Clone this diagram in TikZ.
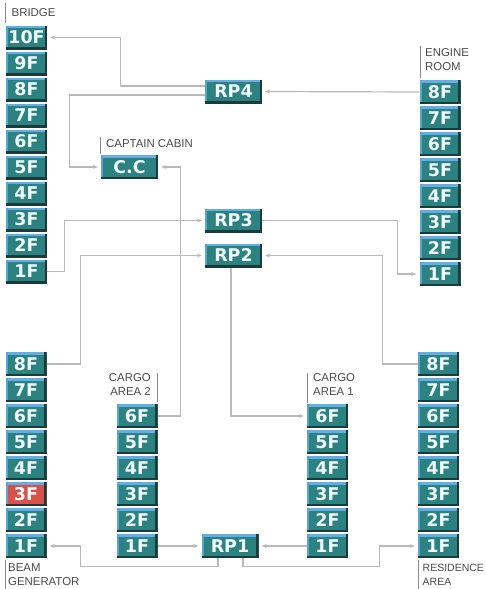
\documentclass[tikz,border=0pt]{standalone}
\usepackage{fontspec}
\setsansfont{DejaVu Sans}
\newfontfamily\lblfont{Liberation Sans}
\usetikzlibrary{arrows.meta,calc}
\definecolor{teal1}{HTML}{2B8281}
\definecolor{red1}{HTML}{D8524A}
\definecolor{edgehi}{HTML}{64AEE6}
\definecolor{edgelo}{HTML}{1C3A3A}
\definecolor{conncol}{HTML}{B9B9B9}
\definecolor{tickcol}{HTML}{8A8A8A}
\definecolor{lblcol}{HTML}{4A4A4A}
\begin{document}
\begin{tikzpicture}[x=1pt,y=-1pt,
  fl/.style={rectangle, minimum width=41pt, minimum height=24pt, inner sep=0pt,
    fill=teal1, text=white!95!cyan, font=\sffamily\bfseries\fontsize{17.5}{17.5}\selectfont,
    path picture={
      \fill[edgehi] (path picture bounding box.north west) rectangle ([yshift=-2.5pt]path picture bounding box.north east);
      \fill[edgehi!80!teal1] (path picture bounding box.north west) rectangle ([xshift=2pt]path picture bounding box.south west);
      \fill[edgelo] (path picture bounding box.south west) rectangle ([yshift=2.5pt]path picture bounding box.south east);
      \fill[edgelo] (path picture bounding box.south east) rectangle ([xshift=-2.5pt]path picture bounding box.north east);
    }},
  rp/.style={fl, minimum width=57pt},
  hot/.style={fill=red1},
  conn/.style={draw=conncol, line width=1.2pt, -{Stealth[length=5pt,width=4pt]}, shorten >=3pt},
  lbl/.style={font=\lblfont\fontsize{11.4}{14}\selectfont, text=lblcol, inner sep=0pt, align=left},
  small/.style={font=\lblfont\fontsize{10.5}{14}\selectfont},
  tick/.style={draw=tickcol, line width=0.8pt}
]
\useasboundingbox (0,0) rectangle (486,589);
\fill[white] (0,0) rectangle (486,589);

% Bridge column
\foreach \k in {1,...,10} \node[fl] (B\k) at (26.5,{37.5+(10-\k)*26}) {\k F};
% Engine room
\foreach \k in {1,...,8} \node[fl] (E\k) at (440,{92+(8-\k)*26}) {\k F};
% Beam generator
\foreach \k in {1,2,4,5,6,7,8} \node[fl] (G\k) at (26,{364+(8-\k)*26}) {\k F};
\node[fl,hot] (G3) at (26,{364+5*26}) {3F};
% Cargo area 2
\foreach \k in {1,...,6} \node[fl] (C2\k) at (137,{416+(6-\k)*26}) {\k F};
% Cargo area 1
\foreach \k in {1,...,6} \node[fl] (C1\k) at (327.5,{416+(6-\k)*26}) {\k F};
% Residence
\foreach \k in {1,...,8} \node[fl] (R\k) at (438.5,{364+(8-\k)*26}) {\k F};

% RP nodes
\node[rp] (RP4) at (233.5,91.5) {RP4};
\node[rp] (CC) at (129.5,167) {C.C};
\node[rp] (RP3) at (233.5,220.5) {RP3};
\node[rp] (RP2) at (233.5,255.5) {RP2};
\node[rp] (RP1) at (230,546) {RP1};

% Labels
\node[lbl,anchor=west] (lB) at (11.5,13) {BRIDGE};
\draw[tick] (5,3) -- (5,23);
\node[lbl,anchor=west] (lCC) at (106,144) {CAPTAIN CABIN};
\draw[tick] (100,137) -- (100,154);
\node[lbl,anchor=west] (lE) at (425,60) {ENGINE\\ROOM};
\draw[tick] (420,46) -- (420,78);
\node[lbl,anchor=east,align=right] (lC2) at (151,385) {CARGO\\AREA 2};
\draw[tick] (157.5,373) -- (157.5,402);
\node[lbl,anchor=west] (lC1) at (313,385) {CARGO\\AREA 1};
\draw[tick] (307.5,373) -- (307.5,403);
\node[lbl,anchor=west] (lG) at (8,575) {BEAM\\GENERATOR};
\draw[tick] (5,560) -- (5,589);
\node[lbl,small,anchor=west] (lR) at (422.5,575) {RESIDENCE\\AREA};
\draw[tick] (418.5,560) -- (418.5,589);

% Connectors
\draw[conn] ([yshift=5.5pt]RP4.west) -- ++(-84,0) |- (B10.east);
\draw[conn] ([yshift=-3.5pt]RP4.west) -- ++(-135,0) |- (CC.west);
\draw[conn] (E8.west) -- (RP4.east);
\draw[conn] (C26.east) -- ++(23,0) |- (CC.east);
\draw[conn] (B1.east) -- ++(17,0) |- (RP3.west);
\draw[conn] (G8.east) -- ++(34,0) |- (RP2.west);
\draw[conn] (RP3.east) -- ++(135,0) |- (E1.west);
\draw[conn] (R8.west) -- ++(-35,0) |- (RP2.east);
\draw[conn] ([xshift=-2.5pt]RP2.south) |- (C16.west);
\draw[conn] (C21.east) -- (RP1.west);
\draw[conn] ([xshift=-12pt]RP1.south) -- ++(0,8.5) -| ($(G1.east)+(34,0)$) -- (G1.east);
\draw[conn] (C11.west) -- (RP1.east);
\draw[conn] ([xshift=13pt]RP1.south) -- ++(0,8.5) -| ($(R1.west)+(-38,0)$) -- (R1.west);
\end{tikzpicture}
\end{document}
